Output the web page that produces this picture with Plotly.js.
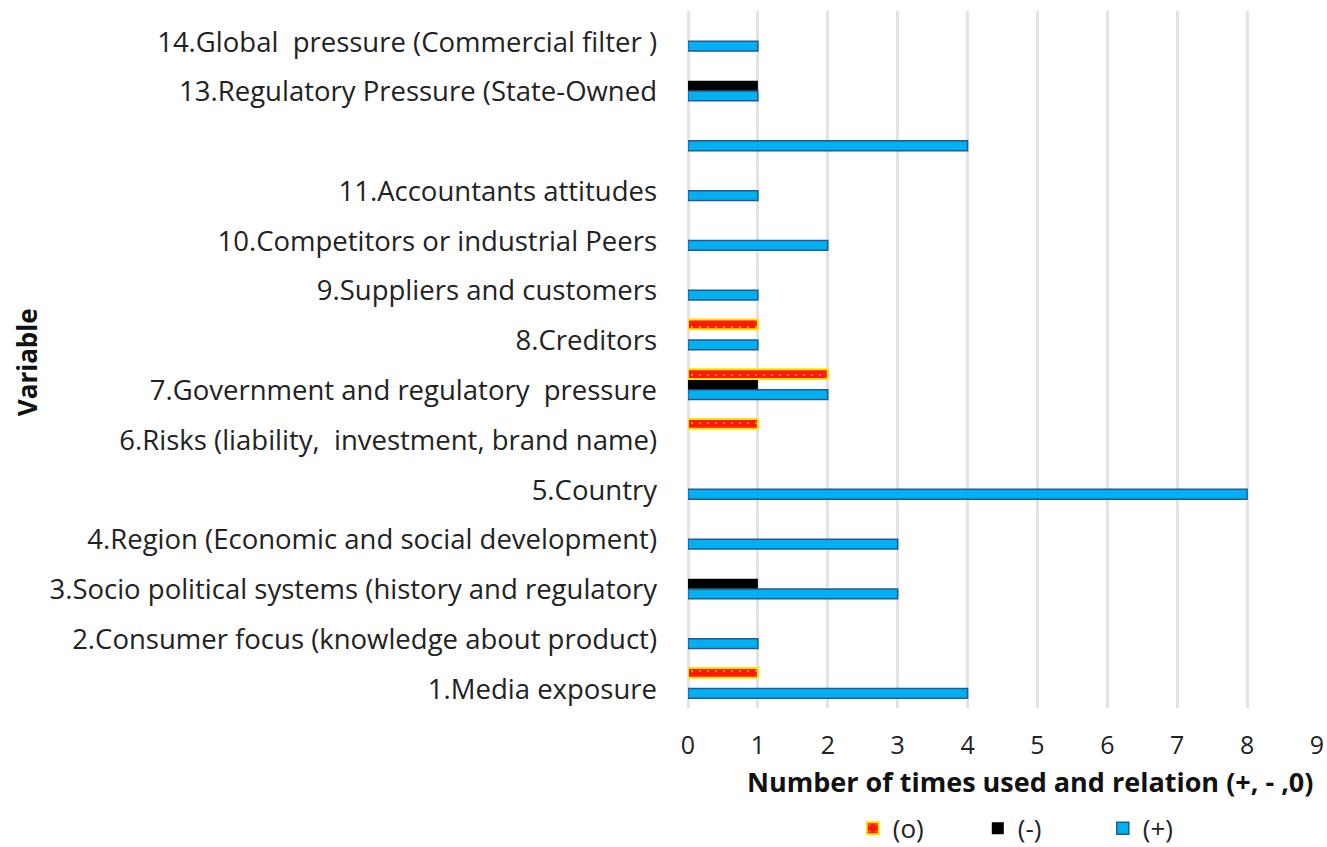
<!DOCTYPE html>
<html>
<head>
<meta charset="utf-8">
<script src="https://cdn.plot.ly/plotly-3.0.1.min.js"></script>
<style>
  html, body { margin: 0; padding: 0; background: #ffffff; }
  #chart { width: 1327px; height: 847px; }
</style>
</head>
<body>
<div id="chart"></div>
<script>
// ---- Data ----
const categories = [
  "1.Media exposure ",
  "2.Consumer focus (knowledge about product)",
  "3.Socio political systems (history and regulatory",
  "4.Region (Economic and social development)",
  "5.Country",
  "6.Risks (liability,  investment, brand name)",
  "7.Government and regulatory  pressure ",
  "8.Creditors ",
  "9.Suppliers and customers",
  "10.Competitors or industrial Peers",
  "11.Accountants attitudes",
  "",
  "13.Regulatory Pressure (State-Owned",
  "14.Global  pressure (Commercial filter )"
];
const positiveValues = [4, 1, 3, 3, 8, 0, 2, 1, 1, 2, 1, 4, 1, 1];   // (+)
const negativeValues = [0, 0, 1, 0, 0, 0, 1, 0, 0, 0, 0, 0, 1, 0];   // (-)
const neutralValues  = [1, 0, 0, 0, 0, 1, 2, 1, 0, 0, 0, 0, 0, 0];   // (o)
const seriesNames = ["(+)", "(-)", "(o)"];
const xTickValues = [0, 1, 2, 3, 4, 5, 6, 7, 8, 9];

// ---- Build ----
const positions = categories.map((c, i) => i + 1);
const tickText = categories.map(c => c.trim().replace(/  /g, "\u00a0\u00a0"));
const noZero = arr => arr.map(v => (v === 0 ? null : v));

const FONT = "'Open Sans', 'DejaVu Sans', sans-serif";

const traces = [
  {
    type: "bar", orientation: "h", name: seriesNames[0],
    x: noZero(positiveValues), y: positions,
    marker: { color: "#00B0F0", line: { color: "#235A92", width: 1.5 } },
    hoverinfo: "x+name"
  },
  {
    type: "bar", orientation: "h", name: seriesNames[1],
    x: noZero(negativeValues), y: positions,
    marker: { color: "#000000", line: { color: "#000000", width: 0 } },
    hoverinfo: "x+name"
  },
  {
    type: "bar", orientation: "h", name: seriesNames[2],
    x: noZero(neutralValues), y: positions,
    marker: {
      color: "#FF1A00",
      line: { color: "#FFE600", width: 2 },
      pattern: { shape: ".", fgcolor: "#FFFFFF", size: 8, solidity: 0.06, fillmode: "overlay" }
    },
    hoverinfo: "x+name"
  }
];

const layout = {
  width: 1327, height: 847,
  paper_bgcolor: "#ffffff", plot_bgcolor: "#ffffff",
  margin: { l: 688, r: 10, t: 11, b: 139, pad: 0, autoexpand: false },
  barmode: "group",
  bargap: 0.38,
  bargroupgap: 0.05,
  font: { family: FONT, size: 22, color: "#222222" },
  showlegend: true,
  legend: {
    orientation: "h", traceorder: "reversed",
    xref: "paper", yref: "container",
    x: 0.262, xanchor: "left", y: 0.022, yanchor: "middle",
    entrywidth: 80, entrywidthmode: "pixels",
    font: { family: FONT, size: 26, color: "#222222" },
    bgcolor: "rgba(0,0,0,0)"
  },
  xaxis: {
    range: [0, 9],
    tickvals: xTickValues,
    ticktext: xTickValues.map(String),
    showgrid: true, gridcolor: "#E3E3E3", gridwidth: 3,
    zeroline: true, zerolinecolor: "#E3E3E3", zerolinewidth: 3,
    showline: false, ticks: "",
    ticklabelstandoff: 20,
    tickfont: { family: FONT, size: 25, color: "#222222" },
    automargin: false,
    fixedrange: true
  },
  yaxis: {
    range: [0.5, 14.5],
    tickvals: positions,
    ticktext: tickText,
    showgrid: false, zeroline: false, showline: false, ticks: "",
    ticklabelstandoff: 30,
    ticklabelshift: 6,
    tickfont: { family: FONT, size: 27.5, color: "#222222" },
    automargin: false,
    fixedrange: true
  },
  annotations: [
    {
      text: "<b>Number of times used and relation (+, - ,0)</b>",
      xref: "paper", yref: "paper",
      x: 0.544, y: -0.106, xanchor: "center", yanchor: "middle",
      showarrow: false,
      font: { family: FONT, size: 27, color: "#111111" }
    },
    {
      text: "<b>Variable</b>",
      xref: "paper", yref: "paper",
      x: -1.051, y: 0.496, xanchor: "center", yanchor: "middle",
      textangle: -90, showarrow: false,
      font: { family: FONT, size: 26, color: "#111111" }
    }
  ]
};

Plotly.newPlot("chart", traces, layout, { displayModeBar: false, staticPlot: true });
</script>
</body>
</html>
